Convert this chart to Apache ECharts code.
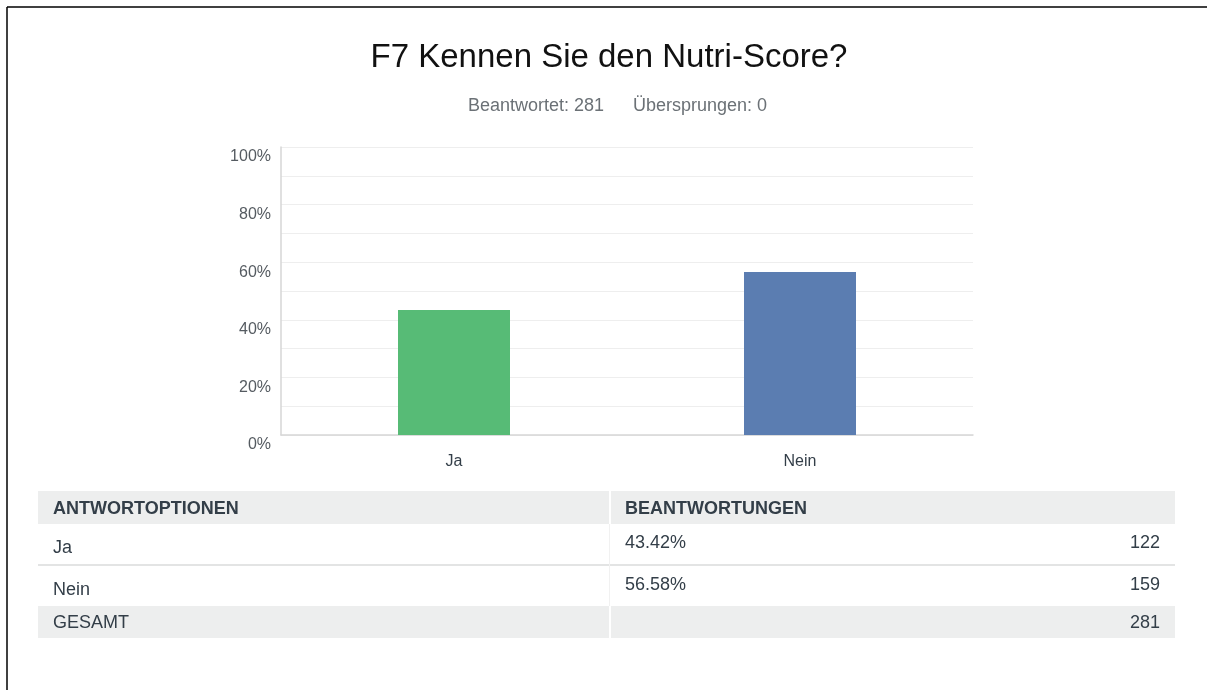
<!DOCTYPE html>
<html>
<head>
<meta charset="utf-8">
<script src="https://cdn.jsdelivr.net/npm/echarts@6/dist/echarts.min.js"></script>
<style>
html,body{margin:0;padding:0;background:#fff;}
#chart{width:1212px;height:690px;}
</style>
</head>
<body>
<div id="chart"></div>
<script>
const titleText = 'F7 Kennen Sie den Nutri-Score?';
const answeredText = 'Beantwortet: 281';
const skippedText = 'Übersprungen: 0';
const categories = ['Ja', 'Nein'];
const percents = [43.42, 56.58];
const counts = [122, 159];
const total = 281;
const barColors = ['#57bb76', '#5b7db1'];
const tableHeaders = ['ANTWORTOPTIONEN', 'BEANTWORTUNGEN'];
const totalLabel = 'GESAMT';

const FONT = '"Liberation Sans", Arial, Helvetica, sans-serif';
const chart = echarts.init(document.getElementById('chart'));

const graphics = [];
// outer frame lines
graphics.push({type:'line', shape:{x1:7, y1:7, x2:1207, y2:7}, style:{stroke:'#000', lineWidth:1.5}, silent:true});
graphics.push({type:'line', shape:{x1:7, y1:7, x2:7, y2:690}, style:{stroke:'#000', lineWidth:1.5}, silent:true});

// title + subtitle
graphics.push({type:'text', x:609, y:58, style:{text:titleText, font:'33px ' + FONT, fill:'#111111', align:'center', verticalAlign:'middle'}});
graphics.push({type:'text', x:604, y:106, style:{text:answeredText, font:'18px ' + FONT, fill:'#6b7176', align:'right', verticalAlign:'middle'}});
graphics.push({type:'text', x:633, y:106, style:{text:skippedText, font:'18px ' + FONT, fill:'#6b7176', align:'left', verticalAlign:'middle'}});

// table
const tL = 38, tR = 1175, colX = 610;
const textColor = '#333e48';
const TF = '18px ' + FONT;
graphics.push({type:'rect', shape:{x:tL, y:491, width:tR-tL, height:33}, style:{fill:'#edeeee'}, silent:true});
graphics.push({type:'rect', shape:{x:colX-1, y:491, width:2, height:33}, style:{fill:'#fff'}, silent:true});
graphics.push({type:'text', x:53, y:509, style:{text:tableHeaders[0], font:'bold ' + TF, fill:textColor, verticalAlign:'middle'}});
graphics.push({type:'text', x:625, y:509, style:{text:tableHeaders[1], font:'bold ' + TF, fill:textColor, verticalAlign:'middle'}});
const rowTops = [524, 566];
categories.forEach((c, i) => {
  const top = rowTops[i];
  graphics.push({type:'text', x:53, y:top + 24, style:{text:c, font:TF, fill:textColor, verticalAlign:'middle'}});
  graphics.push({type:'text', x:625, y:top + 19, style:{text:percents[i].toFixed(2) + '%', font:TF, fill:textColor, verticalAlign:'middle'}});
  graphics.push({type:'text', x:1160, y:top + 19, style:{text:String(counts[i]), font:TF, fill:textColor, verticalAlign:'middle', align:'right'}});
});
graphics.push({type:'rect', shape:{x:tL, y:564, width:tR-tL, height:2}, style:{fill:'#e3e4e4'}, silent:true});
graphics.push({type:'rect', shape:{x:colX-1, y:524, width:1, height:82}, style:{fill:'#f1f1f1'}, silent:true});
graphics.push({type:'rect', shape:{x:tL, y:606, width:tR-tL, height:32}, style:{fill:'#edeeee'}, silent:true});
graphics.push({type:'rect', shape:{x:colX-1, y:606, width:2, height:32}, style:{fill:'#fff'}, silent:true});
graphics.push({type:'text', x:53, y:623, style:{text:totalLabel, font:TF, fill:textColor, verticalAlign:'middle'}});
graphics.push({type:'text', x:1160, y:623, style:{text:String(total), font:TF, fill:textColor, verticalAlign:'middle', align:'right'}});

chart.setOption({
  animation: false,
  backgroundColor: '#fff',
  grid: {left: 281, right: 239, top: 147, bottom: 255, containLabel: false},
  xAxis: {
    type: 'category',
    data: categories,
    axisLine: {lineStyle: {color: '#d6d6d6', width: 1.5}},
    axisTick: {show: false},
    axisLabel: {color: '#333e48', fontSize: 16, fontFamily: FONT, margin: 19}
  },
  yAxis: {
    type: 'value',
    min: 0, max: 100, interval: 10,
    axisLine: {show: true, lineStyle: {color: '#d6d6d6', width: 1.5}},
    axisTick: {show: false},
    splitLine: {lineStyle: {color: '#eeeeee', width: 1}},
    axisLabel: {
      color: '#555b61', fontSize: 16, fontFamily: FONT, margin: 10,
      verticalAlign: 'top', padding: [2, 0, 0, 0],
      formatter: v => (v % 20 === 0 ? v + '%' : '')
    }
  },
  series: [{
    type: 'bar',
    data: percents.map((v, i) => ({value: v, itemStyle: {color: barColors[i]}})),
    barWidth: 112
  }],
  graphic: graphics
});
</script>
</body>
</html>
